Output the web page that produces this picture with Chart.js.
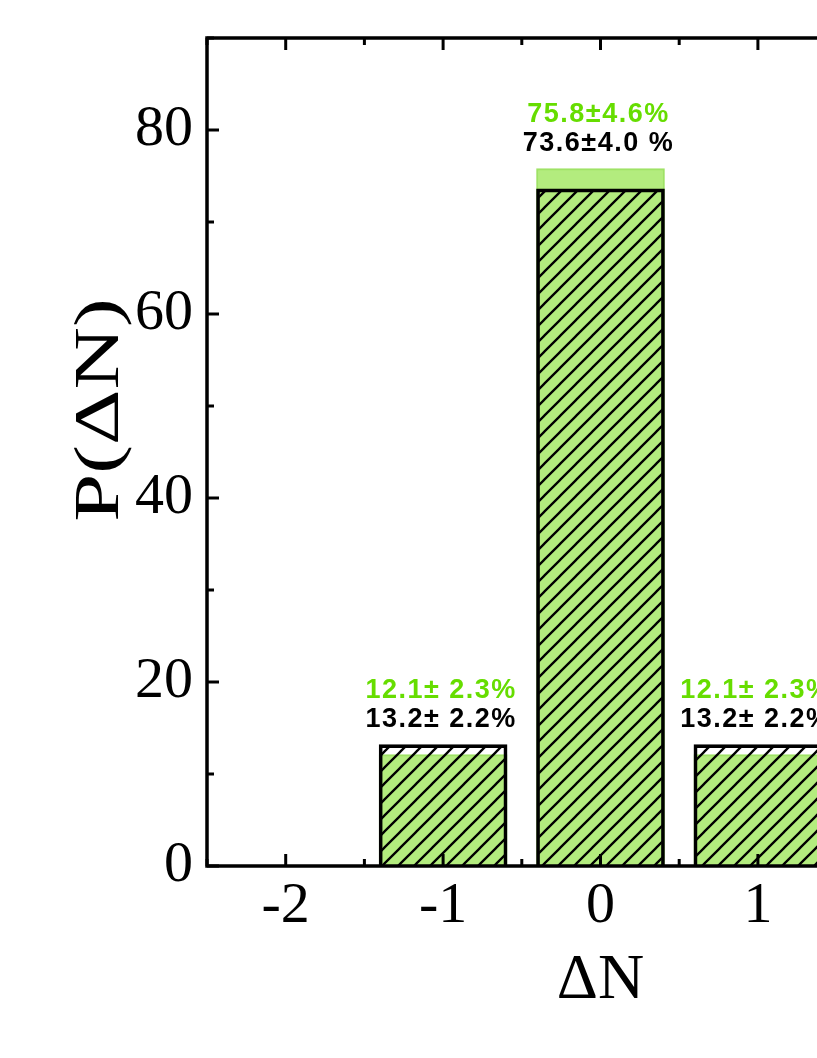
<!DOCTYPE html>
<html><head><meta charset="utf-8">
<script src="https://cdn.jsdelivr.net/npm/chart.js@4.4.0/dist/chart.umd.min.js"></script>
<style>
html,body{margin:0;padding:0;overflow:hidden;background:#fff;width:817px;height:1058px}
#wrap{width:1000px;height:1058px}
</style></head>
<body><div id="wrap"><canvas id="c" width="1000" height="1058"></canvas></div>
<script>
// ---- data ----
const deltaN = [-1, 0, 1];
const pGreen = [12.1, 75.8, 12.1];
const pHatched = [13.2, 73.6, 13.2];
const labelsGreen = ['12.1\u00b1 2.3%', '75.8\u00b14.6%', '12.1\u00b1 2.3%'];
const labelsBlack = ['13.2\u00b1 2.2%', '73.6\u00b14.0 %', '13.2\u00b1 2.2%'];
const xTicks = [-2, -1, 0, 1, 2];
const xMinorTicks = [-2.5, -1.5, -0.5, 0.5, 1.5, 2.5];
const yTicks = [0, 20, 40, 60, 80];
const yMinorTicks = [10, 30, 50, 70, 90];
const xTitle = '\u0394N';
const yTitle = 'P(\u0394N)';

function hatch() {
  const s = 16;
  const c = document.createElement('canvas');
  c.width = s; c.height = s;
  const g = c.getContext('2d');
  g.strokeStyle = '#000'; g.lineWidth = 2.3;
  g.beginPath();
  g.moveTo(-s, 2*s); g.lineTo(2*s, -s);
  g.moveTo(-s, s); g.lineTo(s, -s);
  g.moveTo(0, 2*s); g.lineTo(2*s, 0);
  g.stroke();
  return g.createPattern(c, 'repeat');
}

const GREEN_TEXT = '#66dd00';
const serif = '"Liberation Serif", "Times New Roman", serif';

const framePlugin = {
  id: 'frame',
  afterDatasetsDraw(chart) {
    const {ctx, chartArea: a, scales: {x, y}} = chart;
    ctx.save();
    ctx.strokeStyle = '#000';
    ctx.lineWidth = 3.5;
    ctx.lineCap = 'square';
    ctx.strokeRect(a.left, a.top, a.right - a.left, a.bottom - a.top);
    ctx.lineCap = 'butt';
    ctx.lineWidth = 3;
    const tick = (x1, y1, x2, y2) => { ctx.beginPath(); ctx.moveTo(x1, y1); ctx.lineTo(x2, y2); ctx.stroke(); };
    xTicks.forEach(v => { const px = x.getPixelForValue(v); tick(px, a.bottom, px, a.bottom - 12); tick(px, a.top, px, a.top + 12); });
    xMinorTicks.forEach(v => { const px = x.getPixelForValue(v); tick(px, a.bottom, px, a.bottom - 7); tick(px, a.top, px, a.top + 7); });
    yTicks.forEach(v => { const py = y.getPixelForValue(v); tick(a.left, py, a.left + 12, py); });
    yMinorTicks.forEach(v => { const py = y.getPixelForValue(v); tick(a.left, py, a.left + 7, py); });
    // value labels
    ctx.textAlign = 'center';
    ctx.textBaseline = 'alphabetic';
    ctx.font = 'bold 27px "Liberation Sans", Arial, sans-serif';
    try { ctx.letterSpacing = '1.5px'; } catch (e) {}
    deltaN.forEach((v, i) => {
      const px = x.getPixelForValue(v);
      const top = y.getPixelForValue(Math.max(pGreen[i], pHatched[i]));
      ctx.fillStyle = '#000';
      ctx.fillText(labelsBlack[i], px - 2, top - 18);
      ctx.fillStyle = GREEN_TEXT;
      ctx.fillText(labelsGreen[i], px - 2, top - 47);
    });
    ctx.restore();
    // y-axis title
    ctx.save();
    ctx.fillStyle = '#000';
    ctx.font = '64px ' + serif;
    ctx.textAlign = 'center';
    ctx.textBaseline = 'alphabetic';
    ctx.translate(118, 410);
    ctx.rotate(-Math.PI / 2);
    ctx.scale(1.35, 1);
    ctx.fillText(yTitle, 0, 0);
    ctx.restore();
  }
};

new Chart(document.getElementById('c'), {
  type: 'bar',
  data: {
    datasets: [
      {
        label: 'hatched',
        data: deltaN.map((v, i) => ({x: v, y: pHatched[i]})),
        backgroundColor: hatch(),
        borderColor: '#000',
        borderWidth: 3,
        borderSkipped: 'start',
        barThickness: 128,
        grouped: false,
        order: 0
      },
      {
        label: 'green',
        data: deltaN.map((v, i) => ({x: v, y: pGreen[i]})),
        backgroundColor: '#b3ec7e',
        borderColor: '#9fe266',
        borderWidth: 2,
        borderSkipped: 'start',
        barThickness: 128,
        grouped: false,
        order: 1
      }
    ]
  },
  options: {
    responsive: false,
    animation: false,
    layout: {padding: {top: 38, right: 6, left: 0, bottom: 0}},
    plugins: {legend: {display: false}, tooltip: {enabled: false}},
    scales: {
      x: {
        type: 'linear',
        min: -2.5, max: 2.5,
        offset: false,
        grid: {display: false, drawTicks: false},
        border: {display: false},
        afterBuildTicks(s) { s.ticks = xTicks.map(v => ({value: v})); },
        afterFit(s) { s.height = 192; s.paddingLeft = 0; s.paddingRight = 0; },
        ticks: {color: '#000', font: {family: serif, size: 58}, padding: 6, autoSkip: false, maxRotation: 0},
        title: {display: true, text: xTitle, color: '#000', font: {family: serif, size: 64}, padding: {top: 0, bottom: 38}}
      },
      y: {
        min: 0, max: 90,
        grid: {display: false, drawTicks: false},
        border: {display: false},
        afterBuildTicks(s) { s.ticks = yTicks.map(v => ({value: v})); },
        afterFit(s) { s.width = 207; s.paddingTop = 0; s.paddingBottom = 0; },
        ticks: {color: '#000', font: {family: serif, size: 58}, padding: 14}
      }
    }
  },
  plugins: [framePlugin]
});
</script>
</body></html>
